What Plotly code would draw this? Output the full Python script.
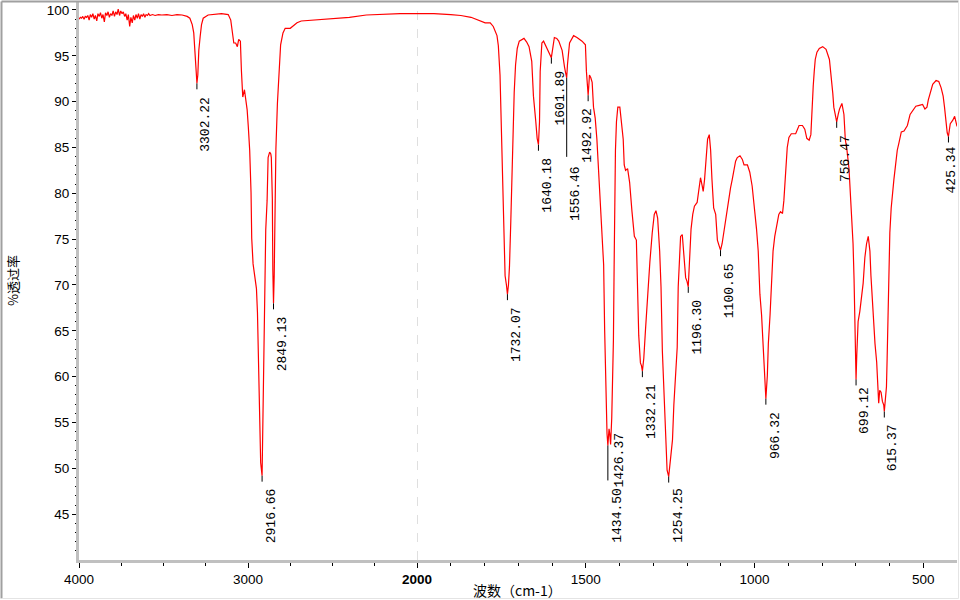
import numpy as np
import plotly.graph_objs as go

## IR spectrum (wavenumber cm-1, %T)
wavenumber = [
    4000, 3992, 3985, 3978, 3970, 3963, 3955, 3948, 3940, 3933, 3925, 3918, 3910, 3903, 3895, 3888,
    3880, 3873, 3865, 3858, 3850, 3843, 3835, 3828, 3820, 3813, 3805, 3798, 3790, 3783, 3775, 3768,
    3760, 3753, 3745, 3738, 3730, 3723, 3715, 3708, 3700, 3693, 3685, 3678, 3670, 3663, 3655, 3648,
    3640, 3633, 3625, 3618, 3610, 3603, 3595, 3588, 3580, 3565, 3550, 3530, 3510, 3480, 3450, 3420,
    3390, 3360, 3344, 3330, 3321, 3315, 3309, 3302.22, 3297, 3291, 3283, 3275, 3265, 3236, 3157, 3117,
    3102, 3092, 3084, 3073, 3063, 3055, 3045, 3039, 3031, 3021, 3014, 3005, 2998, 2990, 2982, 2978,
    2970, 2962, 2950, 2944, 2940, 2934, 2931, 2925, 2916.66, 2907, 2901, 2895, 2887, 2881, 2872, 2865,
    2862, 2856, 2853, 2849.13, 2845, 2842, 2838, 2835, 2826, 2819, 2807, 2793, 2780, 2750, 2710, 2685,
    2600, 2500, 2400, 2300, 2200, 2100, 2000,
    1950, 1900, 1870, 1840, 1813, 1798, 1783, 1774, 1763, 1759, 1754, 1749, 1746, 1744, 1739, 1735,
    1732.07, 1729, 1726, 1722, 1719, 1716, 1712, 1708, 1703, 1697, 1690, 1683, 1675, 1668, 1660, 1655,
    1648, 1644, 1640.18, 1637, 1635, 1630, 1625, 1617, 1610, 1605, 1601.89, 1597, 1593, 1586, 1580, 1570,
    1566, 1563, 1560, 1556.46, 1554, 1548, 1536, 1526, 1511, 1501, 1498, 1495, 1492.92, 1491, 1489, 1485,
    1481, 1477, 1472, 1467, 1462, 1457, 1452, 1447, 1444, 1441, 1437, 1434.50, 1431, 1429, 1426.37, 1423,
    1420, 1418, 1416, 1414, 1412, 1409, 1405, 1399, 1395, 1389, 1386, 1382, 1376, 1370, 1363, 1358,
    1356, 1350, 1346, 1343, 1338, 1335, 1332.21, 1328, 1323, 1316, 1310, 1303, 1297, 1292, 1287, 1281,
    1277, 1273, 1269, 1264, 1259, 1254.25, 1251, 1247, 1243, 1239, 1234, 1229, 1226, 1222, 1219, 1214,
    1210, 1207, 1204, 1200, 1196.30, 1194, 1192, 1188, 1183, 1178, 1170, 1165, 1160, 1155, 1152, 1148,
    1143, 1139, 1134, 1130, 1126, 1121, 1115, 1110, 1105, 1100.65, 1096, 1091, 1086, 1081, 1076, 1071,
    1066, 1061, 1056, 1051, 1043, 1036, 1031, 1021, 1014, 1007, 1000, 994, 989, 984, 979, 975,
    972, 968, 966.32, 962, 959, 954, 950, 945, 940, 934, 928, 923, 917, 913, 908, 903,
    898, 891, 878, 868, 858, 851, 845, 838, 833, 830, 826, 823, 820, 815, 808, 798,
    788, 778, 773, 768, 765, 760, 756.47, 752, 748, 741, 735, 731, 726, 720, 715, 711,
    708, 705, 702, 699.12, 697, 693, 688, 683, 678, 673, 668, 663, 658, 655, 651, 647,
    643, 638, 635, 632, 629, 625, 621, 617, 615.37, 612, 609, 607, 605, 603, 599, 595,
    591, 587, 582, 577, 572, 565, 557, 547, 539, 532, 522, 512, 502, 495, 489, 485,
    479, 472, 462, 454, 447, 441, 437, 433, 429, 425.34, 420, 416, 412, 407, 402, 400,
]
transmittance = [
    99.0, 99.2, 99.1, 99.3, 99.0, 99.3, 99.2, 99.4, 98.9, 99.5, 99.2, 99.6, 99.0, 99.4, 98.8, 99.6,
    99.3, 99.7, 99.1, 99.5, 98.7, 99.7, 99.4, 99.8, 99.2, 99.6, 99.4, 99.9, 99.3, 99.8, 99.5, 100.1,
    99.4, 99.9, 99.6, 99.8, 99.3, 99.6, 98.9, 99.5, 98.2, 99.2, 98.6, 99.4, 98.9, 99.5, 99.1, 99.6,
    99.0, 99.5, 99.3, 99.6, 99.2, 99.5, 99.4, 99.6, 99.4, 99.5, 99.4, 99.5, 99.45, 99.5, 99.4, 99.5,
    99.45, 99.3, 99.1, 98.4, 97.5, 95.8, 93.2, 92.0, 92.9, 95.6, 97.1, 98.4, 99.1, 99.45, 99.6, 99.5,
    98.9, 97.5, 96.4, 96.4, 96.0, 96.8, 96.6, 93.4, 90.5, 91.3, 90.2, 89.1, 87.2, 84.7, 80.1, 75.1,
    72.3, 71.3, 69.6, 67.0, 63.0, 59.0, 55.0, 50.6, 49.2, 59.4, 68.1, 76.0, 79.2, 83.9, 84.5, 84.3,
    83.9, 79.4, 71.6, 68.0, 71.0, 76.0, 80.5, 84.8, 89.8, 92.7, 96.2, 97.5, 98.0, 98.0, 98.6, 98.8,
    98.9, 99.0, 99.2, 99.45, 99.55, 99.6, 99.6,
    99.6, 99.5, 99.4, 99.2, 98.8, 98.6, 98.6, 98.2, 97.2, 96.1, 92.9, 85.5, 80.4, 75.7, 71.0, 70.0,
    69.0, 70.0, 72.0, 77.0, 82.0, 87.0, 91.0, 94.0, 95.8, 96.6, 96.8, 96.9, 96.5, 96.0, 94.4, 90.6,
    87.8, 86.0, 85.3, 87.8, 93.3, 96.4, 96.6, 96.0, 95.4, 95.2, 94.8, 96.0, 97.0, 96.9, 96.6, 95.6,
    94.3, 93.8, 93.2, 92.6, 94.1, 96.4, 97.2, 97.0, 96.6, 96.2, 93.3, 91.2, 90.7, 91.7, 92.9, 92.6,
    92.1, 89.4, 88.2, 85.9, 82.7, 78.8, 75.7, 72.2, 65.1, 58.5, 53.8, 52.5, 54.3, 53.8, 52.6, 55.5,
    60.0, 64.0, 71.8, 79.2, 84.7, 87.8, 89.4, 89.4, 88.2, 85.9, 83.1, 82.5, 82.7, 81.2, 78.0, 75.9,
    75.3, 74.9, 69.8, 64.5, 61.5, 61.2, 60.6, 62.0, 65.1, 69.5, 72.5, 75.7, 77.7, 78.1, 77.3, 73.7,
    69.8, 62.8, 58.9, 53.1, 49.8, 49.1, 50.3, 51.4, 53.1, 56.9, 60.1, 63.2, 69.8, 73.7, 75.3, 75.5,
    73.7, 72.2, 70.8, 70.4, 69.8, 71.5, 73.7, 76.1, 77.7, 78.6, 79.0, 80.4, 81.7, 80.8, 80.2, 81.5,
    83.9, 85.9, 86.4, 84.7, 81.5, 78.4, 77.7, 74.9, 74.3, 73.8, 74.5, 75.7, 76.9, 78.4, 79.8, 80.6,
    81.5, 82.5, 83.5, 83.9, 84.1, 83.7, 83.1, 83.1, 82.3, 80.8, 78.4, 76.1, 73.7, 69.0, 66.7, 63.6,
    60.5, 58.4, 57.6, 60.1, 63.6, 66.7, 70.6, 73.7, 75.3, 76.5, 77.7, 78.0, 77.8, 79.2, 82.5, 85.0,
    86.1, 86.5, 86.5, 87.4, 87.4, 87.0, 86.0, 85.8, 86.4, 89.4, 91.7, 93.3, 94.6, 95.4, 95.8, 96.0,
    95.7, 94.6, 92.9, 90.9, 89.4, 88.4, 87.8, 88.6, 89.2, 89.8, 88.6, 85.9, 84.7, 82.7, 79.6, 77.7,
    74.5, 70.6, 62.0, 59.7, 62.3, 66.0, 67.1, 68.7, 70.2, 73.0, 74.5, 75.3, 73.7, 71.0, 68.3, 65.5,
    63.6, 61.6, 58.5, 57.1, 58.5, 58.3, 57.3, 56.9, 56.2, 57.3, 58.9, 62.0, 66.0, 71.4, 75.7, 78.4,
    80.4, 81.5, 83.1, 84.7, 85.5, 86.7, 86.8, 87.4, 88.6, 89.0, 89.5, 89.6, 89.7, 89.2, 89.4, 90.2,
    91.1, 91.9, 92.3, 92.2, 91.5, 90.6, 89.4, 87.8, 86.6, 86.2, 87.6, 87.8, 88.0, 88.4, 87.8, 87.3,
]

## peak picks
peak_labels = ['3302.22', '2916.66', '2849.13', '1732.07', '1640.18', '1601.89', '1556.46',
               '1492.92', '1434.50', '1426.37', '1332.21', '1254.25', '1196.30', '1100.65',
               '966.32', '756.47', '699.12', '615.37', '425.34']

# label placement (pixels) : text drop below the peak, x shift, leader length
text_drop  = {'1556.46': 88, '1434.50': 42, '1426.37': -12, '699.12': 8, '425.34': 10, '1254.25': 11}
text_shift = {'1492.92': 0, '1434.50': 10, '425.34': 4}
leader_len = {'1556.46': 79, '1434.50': 35, '1426.37': 0}

PX_PER_T = 9.16
SPLIT    = 2000
X_SPLIT  = 338 / 878   # paper position of the 2000 cm-1 scale change

wn = np.array(wavenumber, dtype=float)
tr = np.array(transmittance, dtype=float)
left  = wn >= SPLIT
right = wn <= SPLIT

fig = go.Figure()
fig.add_trace(go.Scatter(x=wn[left], y=tr[left], mode='lines', xaxis='x', yaxis='y',
                         line=dict(color='#ff0000', width=1.2), showlegend=False, hoverinfo='skip'))
fig.add_trace(go.Scatter(x=wn[right], y=tr[right], mode='lines', xaxis='x2', yaxis='y',
                         line=dict(color='#ff0000', width=1.2), showlegend=False, hoverinfo='skip'))

shapes      = []
annotations = []
for lab in peak_labels : #{
    pw   = float(lab)
    pt   = tr[np.argmin(np.abs(wn - pw))]
    xref = 'x' if pw > SPLIT else 'x2'
    ll   = leader_len.get(lab, 6)
    if ll > 0 : #{
        shapes.append(dict(type='line', xref=xref, yref='y', x0=pw, x1=pw,
                           y0=pt, y1=pt - ll / PX_PER_T, line=dict(color='black', width=1)))
    #}
    annotations.append(dict(text=lab, x=pw, y=pt, xref=xref, yref='y', textangle=-90,
                            xanchor='center', yanchor='top', showarrow=False,
                            xshift=text_shift.get(lab, 9), yshift=-(text_drop.get(lab, 13) - 2),
                            font=dict(family='Liberation Mono, monospace', size=13, color='black')))
#}

# axis titles
annotations.append(dict(text='%透过率', xref='paper', yref='paper', x=(12 - 79) / 878, y=0.5,
                        textangle=-90, showarrow=False, xanchor='center', yanchor='middle',
                        font=dict(family='Noto Sans CJK SC', size=13, color='black')))
annotations.append(dict(text='波数（cm-1）', xref='paper', yref='paper', x=(517 - 79) / 878,
                        y=(560 - 590) / 558, showarrow=False, xanchor='center', yanchor='middle',
                        font=dict(family='Noto Sans CJK SC', size=14, color='black')))

# dashed line at the scale change + window frame
shapes.append(dict(type='line', xref='x2', yref='paper', x0=SPLIT, x1=SPLIT, y0=0, y1=1,
                   line=dict(color='#c0c0c0', width=1, dash='dash'), layer='below'))
frame_l = (1.5 - 79) / 878
frame_r = (958.5 - 79) / 878
frame_t = (560 - 1.5) / 558
frame_b = (560 - 598.5) / 558
shapes.append(dict(type='line', xref='paper', yref='paper', x0=frame_l, x1=frame_r, y0=frame_t, y1=frame_t,
                   line=dict(color='#a0a0a0', width=2)))
shapes.append(dict(type='line', xref='paper', yref='paper', x0=frame_l, x1=frame_l, y0=frame_b, y1=frame_t,
                   line=dict(color='#a0a0a0', width=2)))
shapes.append(dict(type='line', xref='paper', yref='paper', x0=frame_l, x1=frame_r, y0=frame_b, y1=frame_b,
                   line=dict(color='#e4e4e4', width=1)))
shapes.append(dict(type='line', xref='paper', yref='paper', x0=frame_r, x1=frame_r, y0=frame_b, y1=frame_t,
                   line=dict(color='#e4e4e4', width=1)))

tick_font = dict(family='Liberation Sans, Arial', size=13.5, color='black')
axis_common = dict(showline=True, linecolor='#c0c0c0', linewidth=3, showgrid=False, zeroline=False,
                   ticks='outside', tickcolor='black', tickwidth=1, tickfont=tick_font, tickmode='array')

fig.update_layout(
    width=960, height=600,
    margin=dict(l=79, r=3, t=2, b=40),
    paper_bgcolor='white', plot_bgcolor='white',
    xaxis=dict(domain=[0, X_SPLIT], range=[4000, SPLIT], anchor='y',
               tickvals=[4000, 3000], ticktext=['4000', '3000'], ticklen=5,
               minor=dict(tickmode='array', tickvals=[3750, 3500, 3250, 2750, 2500, 2250],
                          ticks='outside', ticklen=3, tickcolor='black'),
               **axis_common),
    xaxis2=dict(domain=[X_SPLIT, 1], range=[SPLIT, 400], anchor='y',
                tickvals=[2000, 1500, 1000, 500], ticktext=['<b>2000</b>', '1500', '1000', '500'], ticklen=5,
                minor=dict(tickmode='array', tickvals=[v for v in range(1900, 400, -100) if v % 500],
                           ticks='outside', ticklen=3, tickcolor='black'),
                **axis_common),
    yaxis=dict(range=[40, 100.87], anchor='x',
               tickvals=list(range(45, 101, 5)), ticklen=4,
               minor=dict(tickmode='array', tickvals=[v for v in range(41, 101) if v % 5],
                          ticks='outside', ticklen=1, tickcolor='black'),
               **axis_common),
    shapes=shapes,
    annotations=annotations,
)

fig.write_html("out.html", config={'displayModeBar': False},
               post_script="document.body.style.margin='0';document.body.style.overflow='hidden';")
